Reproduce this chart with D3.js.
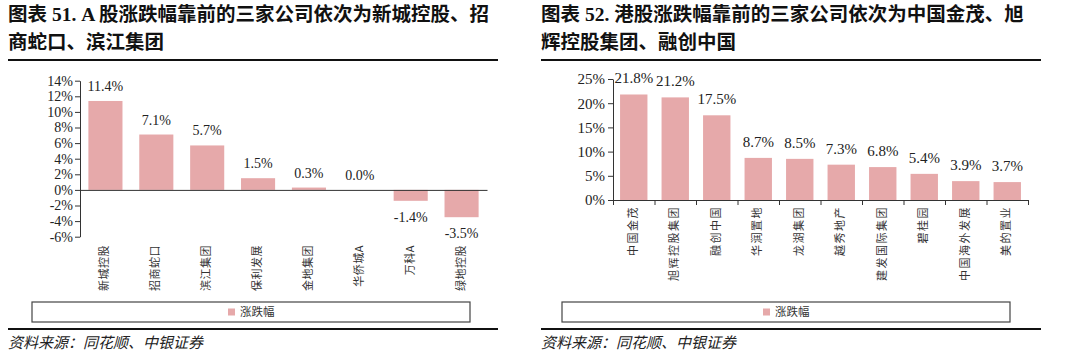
<!DOCTYPE html>
<meta charset="utf-8">
<title>涨跌幅</title>
<style>
body { margin: 0; background: #fff; }
.title { font: bold 19.5px "Liberation Serif", "Noto Sans CJK SC"; fill: #111; }
.num { font: 14px "Liberation Serif", serif; fill: #222; }
.axis path, .axis line { stroke: #333; }
.axis text { font: 14px "Liberation Serif", serif; fill: #222; }
.cat { font: 11px "Noto Sans CJK SC"; fill: #333; }
.src { font: italic 15px "Noto Sans CJK SC"; fill: #222; }
</style>
<svg></svg>
<script src="https://d3js.org/d3.v7.min.js"></script>
<script>
var width = 1080, height = 354;

// A股
var aNames = ["新城控股", "招商蛇口", "滨江集团", "保利发展", "金地集团", "华侨城A", "万科A", "绿地控股"];
var aValues = [11.4, 7.1, 5.7, 1.5, 0.3, 0.0, -1.4, -3.5];
var aTicks = [-6, -4, -2, 0, 2, 4, 6, 8, 10, 12, 14];

// 港股
var hNames = ["中国金茂", "旭辉控股集团", "融创中国", "华润置地", "龙湖集团", "越秀地产", "建发国际集团", "碧桂园", "中国海外发展", "美的置业"];
var hValues = [21.8, 21.2, 17.5, 8.7, 8.5, 7.3, 6.8, 5.4, 3.9, 3.7];
var hTicks = [0, 5, 10, 15, 20, 25];

var seriesName = "涨跌幅";
var barColor = "#e6a9aa";

var svg = d3.select("svg").attr("width", width).attr("height", height);

function panel(opt) {
  var g = svg.append("g");

  // title
  opt.title.forEach(function(t, i) {
    g.append("text").attr("class", "title")
      .attr("x", opt.left).attr("y", 21 + i * 28).text(t);
  });
  g.append("line").attr("x1", opt.left).attr("x2", opt.ruleEnd)
    .attr("y1", 60).attr("y2", 60).attr("stroke", "#111").attr("stroke-width", 2);
  g.append("line").attr("x1", opt.left).attr("x2", opt.ruleEnd)
    .attr("y1", 329).attr("y2", 329).attr("stroke", "#111").attr("stroke-width", 2);

  var x = d3.scaleBand().domain(opt.names).range(opt.xr)
    .paddingInner(opt.pad).paddingOuter(opt.pad / 2);
  var y = d3.scaleLinear().domain(opt.yd).range(opt.yr);

  g.append("g").attr("class", "axis")
    .attr("transform", "translate(" + opt.xr[0] + ",0)")
    .call(d3.axisLeft(y).tickValues(opt.ticks).tickSize(5).tickPadding(opt.tp)
      .tickSizeOuter(0).tickFormat(function(d) { return d + "%"; }))
    .call(function(a) { a.selectAll("text").style("font-size", opt.fs + "px"); });

  g.selectAll(".bar").data(opt.values).enter().append("rect")
    .attr("x", function(d, i) { return x(opt.names[i]); })
    .attr("width", x.bandwidth())
    .attr("y", function(d) { return y(Math.max(0, d)); })
    .attr("height", function(d) { return Math.abs(y(d) - y(0)); })
    .attr("fill", barColor);

  // zero line (with band ticks on the right chart)
  var xl = d3.scaleLinear().domain([0, opt.names.length]).range(opt.xr);
  g.append("g").attr("class", "axis")
    .attr("transform", "translate(0," + y(0) + ")")
    .call(d3.axisBottom(xl).ticks(opt.names.length)
      .tickSize(opt.xTicks ? 5 : 0).tickSizeOuter(opt.xTicks ? 5 : 0).tickFormat(""));

  g.selectAll(".lbl").data(opt.values).enter().append("text")
    .attr("class", "num").style("font-size", opt.fs + "px")
    .attr("text-anchor", "middle")
    .attr("x", function(d, i) { return x(opt.names[i]) + x.bandwidth() / 2; })
    .attr("y", function(d) { return d < 0 ? y(d) + 21 : y(d) - opt.gap; })
    .text(function(d) { return d.toFixed(1) + "%"; });

  // category labels, rotated to read bottom-up, top-aligned
  g.selectAll(".cat").data(opt.names).enter().append("text")
    .attr("class", "cat")
    .attr("text-anchor", "end")
    .attr("dy", "0.36em")
    .style("letter-spacing", opt.ls + "px")
    .attr("transform", function(d) {
      return "translate(" + (x(d) + x.bandwidth() / 2 - 1) + "," + opt.catY + ") rotate(-90)";
    })
    .text(function(d) { return d; });

  // legend
  var lg = g.append("g");
  lg.append("rect").attr("x", opt.lg[0]).attr("y", 302)
    .attr("width", opt.lg[1] - opt.lg[0]).attr("height", 20)
    .attr("fill", "none").attr("stroke", "#444").attr("stroke-width", 1.2);
  var cx = (opt.lg[0] + opt.lg[1]) / 2;
  lg.append("rect").attr("x", cx - 23).attr("y", 308.5).attr("width", 7).attr("height", 7)
    .attr("fill", barColor);
  lg.append("text").attr("class", "cat").style("font-size", "11.5px")
    .attr("x", cx - 11).attr("y", 316).text(seriesName);

  g.append("text").attr("class", "src").attr("x", opt.left).attr("y", 348)
    .text("资料来源：同花顺、中银证券");
}

panel({
  title: ["图表 51. A 股涨跌幅靠前的三家公司依次为新城控股、招", "商蛇口、滨江集团"],
  left: 8, ruleEnd: 498,
  names: aNames, values: aValues, ticks: aTicks,
  xr: [80, 487], yd: [-6, 14], yr: [236.7, 80.7], pad: 0.33,
  tp: 2, fs: 14, gap: 10, xTicks: false, catY: 245, ls: 0.5,
  lg: [32, 470]
});

panel({
  title: ["图表 52. 港股涨跌幅靠前的三家公司依次为中国金茂、旭", "辉控股集团、融创中国"],
  left: 541, ruleEnd: 1041,
  names: hNames, values: hValues, ticks: hTicks,
  xr: [613, 1028], yd: [0, 25], yr: [200, 79], pad: 0.34,
  tp: 3, fs: 15, gap: 11, xTicks: true, catY: 206, ls: 1.5,
  lg: [562, 1010]
});
</script>
